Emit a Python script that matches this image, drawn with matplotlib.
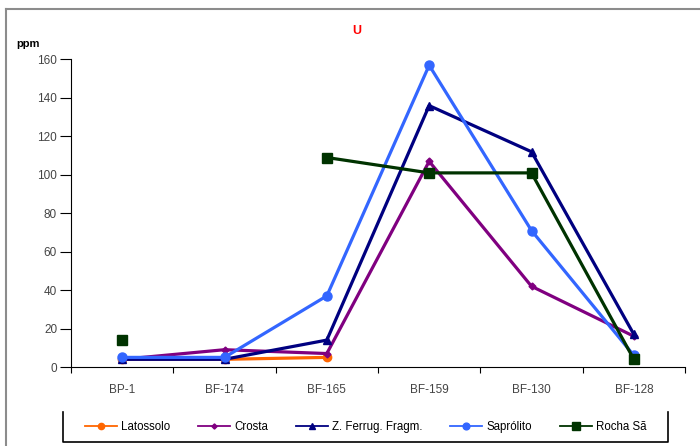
"""Uranium (ppm) across profiles, per weathering horizon."""
import matplotlib

matplotlib.use("Agg")
import matplotlib.pyplot as plt
import numpy as np
from matplotlib.lines import Line2D

plt.rcParams["font.family"] = ["Liberation Sans", "DejaVu Sans"]

profiles = ["BP-1", "BF-174", "BF-165", "BF-159", "BF-130", "BF-128"]
nan = np.nan

latossolo = [4, 4, 5, nan, nan, nan]
crosta = [4, 9, 7, 107, 42, 16]
z_ferrug = [4, 4, 14, 136, 112, 17]
saprolito = [5, 5, 37, 157, 71, 6]
rocha_sa = [14, nan, 109, 101, 101, 4]

series = [
    ("Latossolo", latossolo, "#FF6600", "o", 6),
    ("Crosta", crosta, "#800080", "D", 3.5),
    ("Z. Ferrug. Fragm.", z_ferrug, "#000080", "^", 6),
    ("Saprólito", saprolito, "#3366FF", "o", 6.5),
    ("Rocha Sã", rocha_sa, "#003300", "s", 7),
]

W, H = 700, 446
fig = plt.figure(figsize=(W / 100, H / 100), dpi=100)

# outer frame (top and left edges only visible)
fig.add_artist(Line2D([6 / W, 6 / W], [0, 1 - 9 / H], color="#8c8c8c", lw=1.5))
fig.add_artist(Line2D([6 / W, 1], [1 - 9 / H, 1 - 9 / H], color="#8c8c8c", lw=1.5))

ax = fig.add_axes([71 / W, (H - 367) / H, 614 / W, (367 - 59.5) / H])
x = np.arange(len(profiles))
for name, vals, color, marker, ms in series:
    ax.plot(x, vals, color=color, lw=2.3, marker=marker, markersize=ms,
            markeredgecolor=color, label=name)

ax.set_xlim(-0.5, len(profiles) - 0.5)
ax.set_ylim(0, 160)
ax.set_yticks(np.arange(0, 161, 20))
ax.set_xticks(x)
ax.set_xticklabels(profiles)
ax.set_xticks(np.arange(-0.5, len(profiles)), minor=True)
ax.tick_params(axis="x", which="major", length=0, pad=12, labelsize=8.5,
               labelcolor="#444444")
ax.tick_params(axis="x", which="minor", length=4, width=0.8, direction="out")
ax.tick_params(axis="y", length=8, width=0.8, pad=2, labelsize=8.5,
               labelcolor="#444444")
for side in ("top", "right"):
    ax.spines[side].set_visible(False)
for side in ("left", "bottom"):
    ax.spines[side].set_linewidth(0.8)

fig.text(357 / W, 1 - 31 / H, "U", color="red", fontsize=9, fontweight="bold",
         ha="center", va="center")
fig.text(16 / W, 1 - 44 / H, "ppm", fontsize=8, fontweight="bold",
         ha="left", va="center")

# legend box: left, right and bottom edges
box_l, box_r, box_t, box_b = 63 / W, 668 / W, 1 - 412 / H, 1 - 442 / H
fig.add_artist(Line2D([box_l, box_l, box_r, box_r], [box_t, box_b, box_b, box_t],
                      color="black", lw=1.2))

handles = [Line2D([], [], color=c, lw=1.3, marker=m, markersize=ms * 0.75,
                  markeredgecolor=c) for _, _, c, m, ms in series]
fig.legend(handles, [s[0] for s in series], loc="center", ncol=5,
           bbox_to_anchor=((box_l + box_r) / 2, 1 - 427 / H), frameon=False,
           fontsize=8.3, handlelength=2.8, handletextpad=0.35, columnspacing=2.4)

fig.savefig("out.png", dpi=100)
